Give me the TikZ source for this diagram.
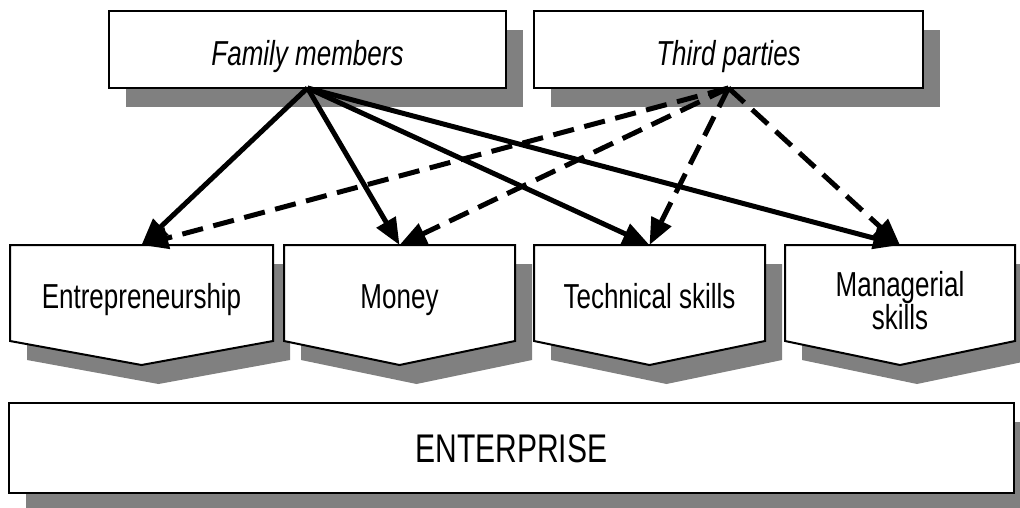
\documentclass[tikz,border=0pt]{standalone}
\usepackage{fontspec}
\setmainfont[FakeStretch=0.75]{Liberation Sans}
\usetikzlibrary{arrows.meta,calc}
\definecolor{shadowgray}{RGB}{128,128,128}

% outline of a downward pointing block built on a rectangular node
\newcommand\blockpath[1]{(#1.north west) -- (#1.north east) -- (#1.south east)
  -- ($(#1.south)+(0,24)$) -- (#1.south west) -- cycle}
\newcommand\boxpath[1]{(#1.north west) rectangle (#1.south east)}

\begin{document}
\begin{tikzpicture}[x=0.75pt,y=-0.75pt,
  frame/.style={inner sep=0pt, outer sep=0pt, draw=none},
  label/.style={inner sep=0pt, anchor=base, font=\fontsize{26}{23}\selectfont},
  outline/.style={draw=black, line width=1.5pt, fill=white, line join=miter},
  shade/.style={fill=shadowgray},
  solidarrow/.style={line width=3.75pt, -{Triangle[length=20pt,width=16pt]}},
  dasharrow/.style={line width=3.75pt, dash pattern=on 16pt off 8pt,
    -{Triangle[length=20pt,width=16pt]}}]
\useasboundingbox (0,0) rectangle (1020,507);
\clip (0,0) rectangle (1020,507);

% sources
\node[frame, minimum width=297.75pt, minimum height=57.75pt] (fam) at (307.5,49.5) {};
\node[frame, minimum width=291.75pt, minimum height=57.75pt] (tp) at (728.5,49.5) {};
% resources
\node[frame, minimum width=197.25pt, minimum height=72pt] (ent) at (141.5,293) {};
\node[frame, minimum width=173.25pt, minimum height=72pt] (mon) at (399.5,293) {};
\node[frame, minimum width=173.25pt, minimum height=72pt] (tec) at (649.5,293) {};
\node[frame, minimum width=172.5pt, minimum height=72pt] (man) at (900,293) {};
% result
\node[frame, minimum width=753.75pt, minimum height=67.5pt] (entp) at (511.5,448) {};

% drop shadows
\begin{scope}[transform canvas={shift={(17,19)}}]
  \fill[shade] \boxpath{fam};
  \fill[shade] \boxpath{tp};
  \fill[shade] \blockpath{ent};
  \fill[shade] \blockpath{mon};
  \fill[shade] \blockpath{tec};
  \fill[shade] \blockpath{man};
  \fill[shade] \boxpath{entp};
\end{scope}

% shapes
\draw[outline] \boxpath{fam};
\draw[outline] \boxpath{tp};
\draw[outline] \blockpath{ent};
\draw[outline] \blockpath{mon};
\draw[outline] \blockpath{tec};
\draw[outline] \blockpath{man};
\draw[outline] \boxpath{entp};

% texts
\node[label] (famT) at (307.5,65) {\itshape Family members};
\node[label] (tpT) at (728.5,65) {\itshape Third parties};
\node[label] (entT) at (141.5,308) {Entrepreneurship};
\node[label] (monT) at (399.5,308) {Money};
\node[label] (tecT) at (649.5,308) {Technical skills};
\node[label, anchor=center, align=center] (manT) at (900,300.5) {Managerial\\skills};
\node[label, font=\fontsize{30}{32}\selectfont] (entpT) at (511.5,462) {ENTERPRISE};

% contributions of third parties
\draw[dasharrow] (tp.south) -- (ent.north);
\draw[dasharrow] (tp.south) -- (mon.north);
\draw[dasharrow] (tp.south) -- (tec.north);
\draw[dasharrow] (tp.south) -- (man.north);
% contributions of family members
\draw[solidarrow] (fam.south) -- (ent.north);
\draw[solidarrow] (fam.south) -- (mon.north);
\draw[solidarrow] (fam.south) -- (tec.north);
\draw[solidarrow] (fam.south) -- (man.north);
\end{tikzpicture}
\end{document}
